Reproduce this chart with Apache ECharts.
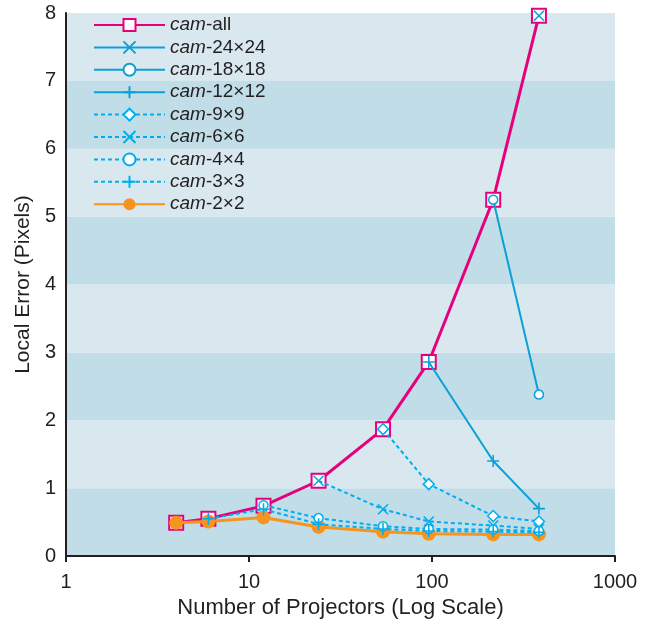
<!DOCTYPE html>
<html>
<head>
<meta charset="utf-8">
<script src="https://cdn.jsdelivr.net/npm/echarts@6/dist/echarts.min.js"></script>
<style>
  html, body { margin: 0; padding: 0; background: #fff; }
  #main { width: 652px; height: 624px; }
</style>
</head>
<body>
<div id="main"></div>
<script>
// number of projectors (x, log scale)
var projectors = [4, 6, 12, 24, 54, 96, 216, 384];

// local error in pixels, one array per camera configuration
var camAll = [0.49, 0.55, 0.74, 1.11, 1.87, 2.86, 5.25, 7.96];
var cam24 = [null, null, null, null, null, null, null, 7.96];
var cam18 = [null, null, null, null, null, null, 5.25, 2.38];
var cam12 = [null, null, null, null, null, 2.86, 1.40, 0.70];
var cam9  = [null, null, null, null, 1.87, 1.06, 0.59, 0.51];
var cam6  = [null, null, null, 1.11, 0.69, 0.51, 0.45, 0.40];
var cam4  = [null, null, 0.75, 0.56, 0.44, 0.40, 0.39, 0.37];
var cam3  = [null, 0.55, 0.69, 0.47, 0.40, 0.37, 0.36, 0.35];
var cam2  = [0.49, 0.51, 0.57, 0.43, 0.36, 0.33, 0.32, 0.32];

var names = ['cam-all', 'cam-24×24', 'cam-18×18', 'cam-12×12', 'cam-9×9',
             'cam-6×6', 'cam-4×4', 'cam-3×3', 'cam-2×2'];
var yTicks = [0, 1, 2, 3, 4, 5, 6, 7, 8];

var MAGENTA = '#e6007e', BLUE = '#0aa0d8', CYAN = '#00aeef', ORANGE = '#f7941d';
var TXT = '#231f20';
var FONT = 'Liberation Sans, Arial, sans-serif';
var CROSS = 'path://M0,0L10,10M10,0L0,10';
var PLUS = 'path://M5,0L5,10M0,5L10,5';

function pairs(arr) {
  var out = [];
  for (var i = 0; i < arr.length; i++) {
    if (arr[i] !== null) out.push([projectors[i], arr[i]]);
  }
  return out;
}

function blue(name, data, symbol, size, dashed, z) {
  var isPath = symbol.indexOf('path://') === 0;
  return {
    name: name, type: 'line', data: pairs(data), z: z,
    symbol: symbol, symbolSize: size, showAllSymbol: true,
    lineStyle: { color: dashed ? CYAN : BLUE, width: 2, type: dashed ? [4, 3] : 'solid' },
    itemStyle: {
      color: isPath ? (dashed ? CYAN : BLUE) : '#fff',
      borderColor: dashed ? CYAN : BLUE,
      borderWidth: isPath ? 1.6 : 1.5
    }
  };
}

var myChart = echarts.init(document.getElementById('main'));
var option = {
  animation: false,
  textStyle: { fontFamily: FONT, color: TXT },
  grid: { left: 66, right: 37, top: 13, bottom: 67 },
  legend: {
    data: names,
    orient: 'vertical',
    left: 93, top: 15.5, padding: 0,
    itemWidth: 71, itemHeight: 15, itemGap: 3.4,
    textStyle: {
      fontSize: 19, color: TXT, fontFamily: FONT,
      rich: { i: { fontStyle: 'italic', fontSize: 19, color: TXT, fontFamily: FONT } }
    },
    formatter: function (n) { return '{i|cam}' + n.slice(3); }
  },
  xAxis: {
    type: 'log', logBase: 10, min: 1, max: 1000,
    name: 'Number of Projectors (Log Scale)',
    nameLocation: 'middle', nameGap: 40,
    nameTextStyle: { fontSize: 22, color: TXT },
    axisLine: { lineStyle: { color: TXT, width: 2 } },
    axisTick: { show: true, length: 6, lineStyle: { color: TXT, width: 2 } },
    axisLabel: { fontSize: 20, color: TXT, margin: 16, formatter: function (v) { return String(v); } },
    splitLine: { show: false },
    minorTick: { show: false }
  },
  yAxis: {
    type: 'value', min: yTicks[0], max: yTicks[yTicks.length - 1], interval: 1,
    name: 'Local Error (Pixels)',
    nameLocation: 'middle', nameGap: 31,
    nameTextStyle: { fontSize: 21, color: TXT },
    axisLine: { show: true, lineStyle: { color: TXT, width: 2 } },
    axisTick: { show: false },
    axisLabel: { fontSize: 20, color: TXT, margin: 10 },
    splitLine: { show: false },
    splitArea: { show: true, areaStyle: { color: ['#c1dde7', '#d9e8ef'] } }
  },
  series: [
    {
      name: 'cam-all', type: 'line', data: pairs(camAll), z: 2,
      symbol: 'rect', symbolSize: 14, showAllSymbol: true,
      lineStyle: { color: MAGENTA, width: 3 },
      itemStyle: { color: '#fff', borderColor: MAGENTA, borderWidth: 2 }
    },
    blue('cam-24×24', cam24, CROSS, 10, false, 5),
    blue('cam-18×18', cam18, 'circle', 9, false, 5),
    blue('cam-12×12', cam12, PLUS, 12, false, 5),
    blue('cam-9×9', cam9, 'diamond', 11, true, 5),
    blue('cam-6×6', cam6, CROSS, 10, true, 5),
    blue('cam-4×4', cam4, 'circle', 9, true, 5),
    blue('cam-3×3', cam3, PLUS, 12, true, 5),
    {
      name: 'cam-2×2', type: 'line', data: pairs(cam2), z: 3,
      symbol: 'circle', symbolSize: 14, showAllSymbol: true,
      lineStyle: { color: ORANGE, width: 3 },
      itemStyle: { color: ORANGE, borderColor: ORANGE, borderWidth: 0 }
    }
  ]
};
myChart.setOption(option);
</script>
</body>
</html>
